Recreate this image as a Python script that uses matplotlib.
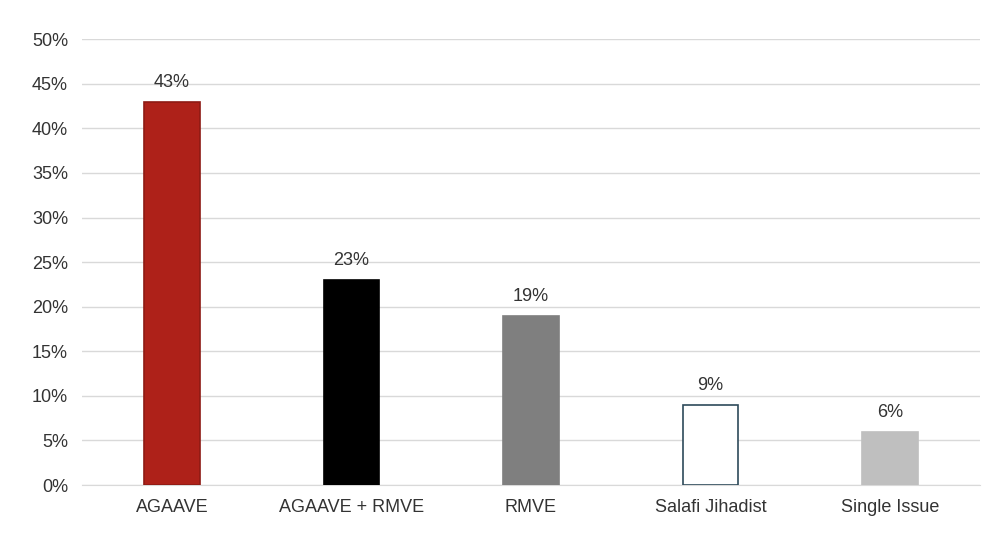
import matplotlib.pyplot as plt
from matplotlib.ticker import PercentFormatter

categories = ["AGAAVE", "AGAAVE + RMVE", "RMVE", "Salafi Jihadist", "Single Issue"]
values = [43, 23, 19, 9, 6]
fill_colors = ["#AE2119", "#000000", "#7F7F7F", "#FFFFFF", "#BFBFBF"]
edge_colors = ["#8E1A14", "#000000", "#7F7F7F", "#2E4A5A", "#BFBFBF"]

plt.rcParams["font.family"] = "Liberation Sans"

fig = plt.figure(figsize=(10, 5.45), dpi=100)
ax = fig.add_axes([0.082, 0.11, 0.898, 0.818])

x = range(len(categories))
ax.bar(x, values, width=0.31, color=fill_colors, edgecolor=edge_colors,
       linewidth=1.2, zorder=3)
for i, v in enumerate(values):
    ax.text(i, v + 1.2, f"{v}%", ha="center", va="bottom", fontsize=13, color="#333333")

ax.set_ylim(0, 50)
ax.set_xlim(-0.5, len(categories) - 0.5)
ax.set_yticks(range(0, 51, 5))
ax.yaxis.set_major_formatter(PercentFormatter(decimals=0))
ax.set_xticks(list(x))
ax.set_xticklabels(categories)
ax.tick_params(axis="both", length=0, labelsize=13, colors="#333333", pad=10)
ax.grid(True, axis="y", color="#D9D9D9", linewidth=1, zorder=0)
for s in ["top", "right", "left"]:
    ax.spines[s].set_visible(False)
ax.spines["bottom"].set_color("#D9D9D9")

plt.savefig("out.png", dpi=100)
